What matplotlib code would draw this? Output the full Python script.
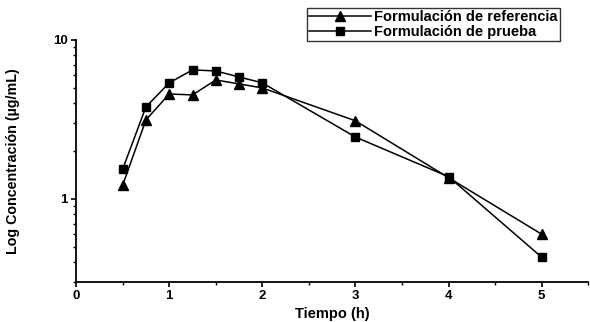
import matplotlib
matplotlib.use("Agg")
import matplotlib.pyplot as plt
from matplotlib.ticker import FixedLocator, NullFormatter, LogLocator

time_h = [0.5, 0.75, 1.0, 1.25, 1.5, 1.75, 2.0, 3.0, 4.0, 5.0]
ref_conc = [1.22, 3.14, 4.57, 4.51, 5.6, 5.29, 4.99, 3.1, 1.36, 0.60]
test_conc = [1.54, 3.79, 5.37, 6.48, 6.38, 5.85, 5.37, 2.45, 1.38, 0.43]
ref_label = "Formulación de referencia"
test_label = "Formulación de prueba"
x_ticks = [0, 1, 2, 3, 4, 5]

plt.rcParams['font.family'] = ['Liberation Sans', 'DejaVu Sans']

fig = plt.figure(figsize=(5.9, 3.22), dpi=100)
ax = fig.add_axes([0.129, 0.124, 0.868, 0.752])

ax.plot(time_h, ref_conc, color='black', lw=1.1, marker='^', ms=6.5, label=ref_label)
ax.plot(time_h, test_conc, color='black', lw=1.1, marker='s', ms=6, label=test_label)

ax.set_yscale('log')
ax.set_ylim(0.30, 10)
ax.set_xlim(0, 5.5)
ax.set_xticks(x_ticks)
ax.set_xticklabels([str(t) for t in x_ticks], fontweight='bold', fontsize=9.5)
ax.xaxis.set_minor_locator(FixedLocator([0.5, 1.5, 2.5, 3.5, 4.5, 5.5]))
ax.yaxis.set_major_locator(FixedLocator([1, 10]))
ax.set_yticklabels(['1', '10'], fontweight='bold', fontsize=9.5)
ax.yaxis.set_minor_locator(LogLocator(base=10, subs=range(2, 10)))
ax.yaxis.set_minor_formatter(NullFormatter())

for s in ['top', 'right']:
    ax.spines[s].set_visible(False)
for s in ['left', 'bottom']:
    ax.spines[s].set_linewidth(1.3)
ax.tick_params(axis='both', which='major', direction='out', length=3.5, width=1.2, pad=2.5)
ax.tick_params(axis='both', which='minor', direction='out', length=2.5, width=1)

ax.set_xlabel('Tiempo (h)', fontweight='bold', fontsize=10.5, labelpad=3)
ax.set_ylabel('Log Concentración (µg/mL)', fontweight='bold', fontsize=10.3, labelpad=24)

leg = ax.legend(loc='upper left', bbox_to_anchor=(0.451, 1.132), frameon=True, fancybox=False,
                edgecolor='black', fontsize=10.5, handlelength=4.2, borderpad=0.15,
                labelspacing=0.05, handletextpad=0.25, borderaxespad=0)
leg.get_frame().set_linewidth(1.0)
for t in leg.get_texts():
    t.set_fontweight('bold')

fig.savefig('out.png', dpi=100)
